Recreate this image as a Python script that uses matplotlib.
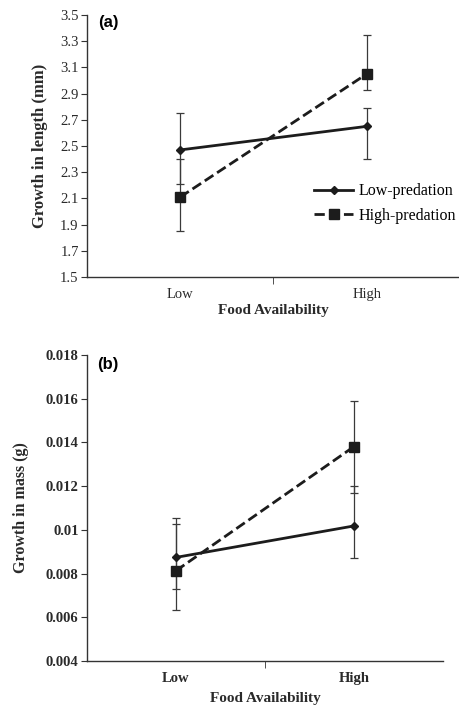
import numpy as np
import matplotlib
matplotlib.use("Agg")
import matplotlib.pyplot as plt
from matplotlib.ticker import FixedLocator

# categories and values
food = ["Low", "High"]

# (a) growth in length (mm)
len_low_pred = [2.47, 2.65]
len_low_pred_lo = [2.21, 2.40]
len_low_pred_hi = [2.75, 2.79]
len_high_pred = [2.11, 3.05]
len_high_pred_lo = [1.85, 2.93]
len_high_pred_hi = [2.40, 3.35]
len_ticks = [1.5, 1.7, 1.9, 2.1, 2.3, 2.5, 2.7, 2.9, 3.1, 3.3, 3.5]

# (b) growth in mass (g)
mass_low_pred = [0.00874, 0.01018]
mass_low_pred_lo = [0.00728, 0.00870]
mass_low_pred_hi = [0.01027, 0.01201]
mass_high_pred = [0.00813, 0.01381]
mass_high_pred_lo = [0.00633, 0.01170]
mass_high_pred_hi = [0.01053, 0.01591]
mass_ticks = [0.004, 0.006, 0.008, 0.01, 0.012, 0.014, 0.016, 0.018]
mass_labels = ["0.004", "0.006", "0.008", "0.01", "0.012", "0.014", "0.016", "0.018"]

SERIF = "Liberation Serif"
SANS = "Liberation Sans"
LINE_C = "#1c1c1c"
ERR_C = "#3a3a3a"
TXT_C = "#2a2a2a"


def draw_series(ax, y, lo, hi, ls, marker, ms, label):
    x = np.arange(len(y))
    y = np.array(y)
    yerr = [y - np.array(lo), np.array(hi) - y]
    ax.errorbar(x, y, yerr=yerr, fmt="none", ecolor=ERR_C, elinewidth=0.9,
                capsize=3, capthick=0.9, zorder=2)
    ax.plot(x, y, linestyle=ls, color=LINE_C, linewidth=2.0, marker=marker,
            markersize=ms, markerfacecolor=LINE_C, markeredgecolor=LINE_C,
            label=label, zorder=3)


def style_axes(ax, weight):
    for s in ["top", "right"]:
        ax.spines[s].set_visible(False)
    for s in ["left", "bottom"]:
        ax.spines[s].set_color("#333333")
        ax.spines[s].set_linewidth(1.0)
    ax.set_xlim(-0.5, 1.5)
    ax.xaxis.set_major_locator(FixedLocator([0, 1]))
    ax.set_xticklabels(food, fontfamily=SERIF, fontsize=10.5, fontweight=weight,
                       color=TXT_C)
    ax.xaxis.set_minor_locator(FixedLocator([0.5]))
    ax.tick_params(axis="x", which="major", length=0, pad=8)
    ax.tick_params(axis="x", which="minor", length=5, direction="out",
                   color="#333333")
    ax.tick_params(axis="y", length=4, direction="out", color="#333333",
                   pad=2)
    for lab in ax.get_yticklabels():
        lab.set_fontfamily(SERIF)
        lab.set_fontsize(10.5)
        lab.set_fontweight(weight)
        lab.set_color(TXT_C)


fig = plt.figure(figsize=(4.6, 7.11), dpi=100)

# panel (a)
ax1 = fig.add_axes([0.189, 0.6104, 0.811, 0.3685])
draw_series(ax1, len_low_pred, len_low_pred_lo, len_low_pred_hi, "-", "D", 4.5,
            "Low-predation")
draw_series(ax1, len_high_pred, len_high_pred_lo, len_high_pred_hi, "--", "s", 7,
            "High-predation")
ax1.set_ylim(1.5, 3.5)
ax1.set_yticks(len_ticks)
ax1.set_yticklabels([f"{t:.1f}" for t in len_ticks])
style_axes(ax1, "normal")
ax1.set_ylabel("Growth in length (mm)", fontfamily=SERIF, fontsize=12,
               fontweight="bold", labelpad=9, color=TXT_C)
ax1.set_xlabel("Food Availability", fontfamily=SERIF, fontsize=11,
               fontweight="bold", labelpad=2, color=TXT_C)
ax1.text(0.03, 0.97, "(a)", transform=ax1.transAxes, fontfamily=SANS,
         fontsize=12, fontweight="bold", va="center", ha="left")
ax1.legend(loc="center left", bbox_to_anchor=(0.58, 0.28), frameon=False,
           prop={"family": SERIF, "size": 11.5}, handlelength=2.4,
           handletextpad=0.35, labelspacing=0.55, borderpad=0.2)

# panel (b)
ax2 = fig.add_axes([0.189, 0.0703, 0.774, 0.4304])
draw_series(ax2, mass_low_pred, mass_low_pred_lo, mass_low_pred_hi, "-", "D", 4.5,
            "Low-predation")
draw_series(ax2, mass_high_pred, mass_high_pred_lo, mass_high_pred_hi, "--", "s", 7,
            "High-predation")
ax2.set_ylim(0.004, 0.018)
ax2.set_yticks(mass_ticks)
ax2.set_yticklabels(mass_labels)
style_axes(ax2, "bold")
ax2.set_ylabel("Growth in mass (g)", fontfamily=SERIF, fontsize=11.5,
               fontweight="bold", labelpad=12, color=TXT_C)
ax2.set_xlabel("Food Availability", fontfamily=SERIF, fontsize=11,
               fontweight="bold", labelpad=5, color=TXT_C)
ax2.text(0.03, 0.97, "(b)", transform=ax2.transAxes, fontfamily=SANS,
         fontsize=12, fontweight="bold", va="center", ha="left")

fig.savefig("out.png", dpi=100)
